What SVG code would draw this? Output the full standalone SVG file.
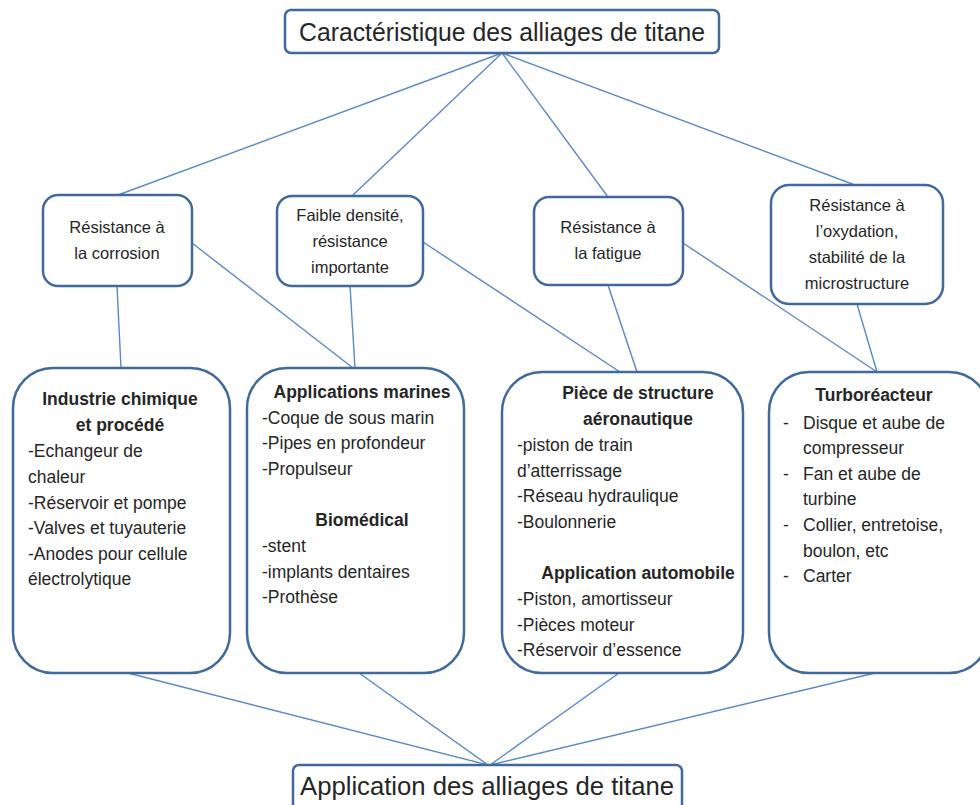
<svg xmlns="http://www.w3.org/2000/svg" width="980" height="805" viewBox="0 0 980 805">
<style>
.box{fill:#fff;stroke:#41699a;stroke-width:2.5}
.ln{stroke:#5b89c4;stroke-width:1.4;fill:none}
text{font-family:"Liberation Sans",Arial,sans-serif;fill:#262626}
.t{font-size:25px}
.m{font-size:16.5px;text-anchor:middle}
.b{font-size:17.5px;font-weight:bold;text-anchor:middle}
.i{font-size:17.5px}
</style>
<rect width="980" height="805" fill="#fff"/>
<g id="connectors">
<line class="ln" x1="502" y1="53" x2="118" y2="195"/>
<line class="ln" x1="502" y1="53" x2="352" y2="196"/>
<line class="ln" x1="502" y1="53" x2="608" y2="197"/>
<line class="ln" x1="502" y1="53" x2="855" y2="185"/>
<line class="ln" x1="117" y1="286" x2="121" y2="368"/>
<line class="ln" x1="192" y1="243" x2="353" y2="368"/>
<line class="ln" x1="350" y1="286" x2="355" y2="368"/>
<line class="ln" x1="423" y1="242" x2="620" y2="372"/>
<line class="ln" x1="608" y1="285" x2="637" y2="372"/>
<line class="ln" x1="683" y1="243" x2="877" y2="372"/>
<line class="ln" x1="857" y1="304" x2="877" y2="372"/>
<line class="ln" x1="128" y1="673" x2="488" y2="765"/>
<line class="ln" x1="359" y1="673" x2="488" y2="765"/>
<line class="ln" x1="619" y1="673" x2="490" y2="765"/>
<line class="ln" x1="875" y1="673" x2="490" y2="765"/>
</g>
<g id="top">
<rect class="box" x="285" y="10" width="434" height="43" rx="6"/>
<text class="t" x="502" y="41" text-anchor="middle" textLength="406" lengthAdjust="spacingAndGlyphs">Caractéristique des alliages de titane</text>
</g>
<g id="corrosion">
<rect class="box" x="43" y="195" width="149" height="91" rx="15"/>
<text class="m" x="117" y="233">Résistance à</text>
<text class="m" x="117" y="259">la corrosion</text>
</g>
<g id="densite">
<rect class="box" x="277" y="196" width="146" height="90" rx="15"/>
<text class="m" x="350" y="221">Faible densité,</text>
<text class="m" x="350" y="247">résistance</text>
<text class="m" x="350" y="273">importante</text>
</g>
<g id="fatigue">
<rect class="box" x="534" y="197" width="149" height="88" rx="15"/>
<text class="m" x="608" y="233">Résistance à</text>
<text class="m" x="608" y="259">la fatigue</text>
</g>
<g id="oxydation">
<rect class="box" x="771" y="185" width="172" height="119" rx="18"/>
<text class="m" x="857" y="211">Résistance à</text>
<text class="m" x="857" y="237">l’oxydation,</text>
<text class="m" x="857" y="263">stabilité de la</text>
<text class="m" x="857" y="289">microstructure</text>
</g>
<g id="industrie">
<rect class="box" x="13" y="368" width="217" height="305" rx="40"/>
<text class="b" x="120" y="405">Industrie chimique</text>
<text class="b" x="120" y="431">et procédé</text>
<text class="i" x="28" y="457">-Echangeur de</text>
<text class="i" x="28" y="483">chaleur</text>
<text class="i" x="28" y="509">-Réservoir et pompe</text>
<text class="i" x="28" y="534">-Valves et tuyauterie</text>
<text class="i" x="28" y="560">-Anodes pour cellule</text>
<text class="i" x="28" y="585">électrolytique</text>
</g>
<g id="marines">
<rect class="box" x="247" y="368" width="217" height="305" rx="40"/>
<text class="b" x="362" y="398">Applications marines</text>
<text class="i" x="262" y="424">-Coque de sous marin</text>
<text class="i" x="262" y="449">-Pipes en profondeur</text>
<text class="i" x="262" y="475">-Propulseur</text>
<text class="b" x="362" y="526">Biomédical</text>
<text class="i" x="262" y="552">-stent</text>
<text class="i" x="262" y="578">-implants dentaires</text>
<text class="i" x="262" y="603">-Prothèse</text>
</g>
<g id="aero">
<rect class="box" x="502" y="372" width="241" height="301" rx="40"/>
<text class="b" x="638" y="399">Pièce de structure</text>
<text class="b" x="638" y="425">aéronautique</text>
<text class="i" x="517" y="451">-piston de train</text>
<text class="i" x="517" y="477">d’atterrissage</text>
<text class="i" x="517" y="502">-Réseau hydraulique</text>
<text class="i" x="517" y="528">-Boulonnerie</text>
<text class="b" x="638" y="579">Application automobile</text>
<text class="i" x="517" y="605">-Piston, amortisseur</text>
<text class="i" x="517" y="631">-Pièces moteur</text>
<text class="i" x="517" y="656">-Réservoir d’essence</text>
</g>
<g id="turbo">
<rect class="box" x="769" y="372" width="220" height="301" rx="40"/>
<text class="b" x="874" y="401">Turboréacteur</text>
<text class="i" x="783" y="429">-</text>
<text class="i" x="803" y="429">Disque et aube de</text>
<text class="i" x="803" y="454">compresseur</text>
<text class="i" x="783" y="480">-</text>
<text class="i" x="803" y="480">Fan et aube de</text>
<text class="i" x="803" y="505">turbine</text>
<text class="i" x="783" y="531">-</text>
<text class="i" x="803" y="531">Collier, entretoise,</text>
<text class="i" x="803" y="557">boulon, etc</text>
<text class="i" x="783" y="582">-</text>
<text class="i" x="803" y="582">Carter</text>
</g>
<g id="application">
<rect class="box" x="293" y="765" width="389" height="50" rx="6"/>
<text class="t" x="487" y="795" text-anchor="middle" textLength="374" lengthAdjust="spacingAndGlyphs">Application des alliages de titane</text>
</g>
</svg>
